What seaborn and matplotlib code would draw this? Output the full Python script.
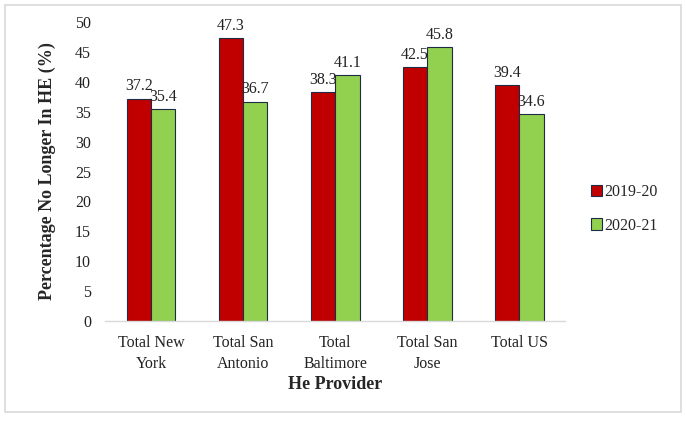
import matplotlib
matplotlib.use("Agg")
import matplotlib.pyplot as plt
import seaborn as sns
import pandas as pd
from matplotlib.patches import Rectangle

categories = ["Total New\nYork", "Total San\nAntonio", "Total\nBaltimore", "Total San\nJose", "Total US"]
series_names = ["2019-20", "2020-21"]
values_2019 = [37.2, 47.3, 38.3, 42.5, 39.4]
values_2020 = [35.4, 36.7, 41.1, 45.8, 34.6]
y_ticks = [0, 5, 10, 15, 20, 25, 30, 35, 40, 45, 50]

sns.set_style("white")
plt.rcParams['font.family'] = ['Liberation Serif', 'DejaVu Serif']

df = pd.DataFrame({
    "cat": categories * 2,
    "year": [series_names[0]] * len(categories) + [series_names[1]] * len(categories),
    "val": values_2019 + values_2020,
})

fig = plt.figure(figsize=(6.86, 4.24), dpi=100)
ax = fig.add_axes([0.153, 0.243, 0.671, 0.705])

palette = {"2019-20": "#C00000", "2020-21": "#92D050"}
sns.barplot(data=df, x="cat", y="val", hue="year", palette=palette, ax=ax,
            width=0.53, saturation=1, edgecolor="#1F2A44", linewidth=0.8)

for cont in ax.containers:
    ax.bar_label(cont, fmt="%.1f", fontsize=11.5, padding=3, color="#222222")

ax.set_ylim(0, 50)
ax.set_yticks(y_ticks)
ax.set_xlim(-0.5, 4.5)
ax.tick_params(axis="both", length=0, labelsize=11.5, colors="#222222")
ax.tick_params(axis="y", pad=10)
ax.tick_params(axis="x", pad=10)
for lbl in ax.get_xticklabels():
    lbl.set_linespacing(1.45)
ax.set_ylabel("Percentage No Longer In HE (%)", fontsize=13, fontweight="bold", labelpad=14)
ax.set_xlabel("He Provider", fontsize=13, fontweight="bold", labelpad=3)

for s in ["top", "right", "left"]:
    ax.spines[s].set_visible(False)
ax.spines["bottom"].set_color("#D9D9D9")
ax.spines["bottom"].set_linewidth(1)

leg = ax.legend(loc="center left", bbox_to_anchor=(1.025, 0.375), frameon=False,
                fontsize=11.5, handlelength=0.7, handleheight=0.7, handletextpad=0.15,
                labelspacing=1.1)

fig.patches.append(Rectangle((0.007, 0.028), 0.985, 0.96, transform=fig.transFigure,
                             fill=False, edgecolor="#D9D9D9", linewidth=1.2))

fig.savefig("out.png", dpi=100)
